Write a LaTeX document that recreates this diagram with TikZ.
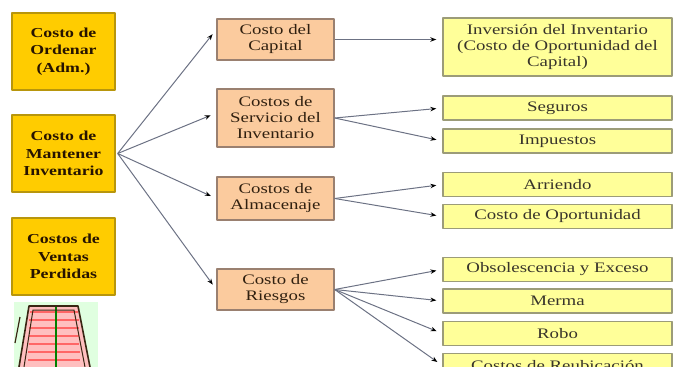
\documentclass[tikz,border=0pt]{standalone}
\usepackage{fontspec}
\setmainfont[FakeStretch=1.3]{Liberation Serif}
\usetikzlibrary{arrows.meta}
\definecolor{oro}{HTML}{FFCC00}
\definecolor{orobor}{HTML}{B8960C}
\definecolor{durazno}{HTML}{FBCB9E}
\definecolor{duraznobor}{HTML}{9A8070}
\definecolor{crema}{HTML}{FFFF99}
\definecolor{cremabor}{HTML}{9C9C78}
\definecolor{linea}{HTML}{6C7284}
\begin{document}
\begin{tikzpicture}[x=1pt, y=-1pt, line join=round,
  mainbox/.style={draw=orobor, fill=oro, line width=1.4pt, inner sep=0pt,
    minimum width=103pt, minimum height=77pt, align=center, text=black!85!orange,
    font=\fontsize{13.7}{17.5}\selectfont\bfseries},
  midbox/.style={draw=duraznobor, fill=durazno, line width=1.4pt, inner sep=0pt,
    minimum width=117pt, align=center, text=black!75!brown,
    font=\fontsize{14.5}{16}\selectfont},
  itembox/.style={draw=cremabor, fill=crema, line width=1.4pt, inner sep=0pt,
    minimum width=229pt, minimum height=24pt, align=center, text=black!80!olive,
    font=\fontsize{14.5}{16}\selectfont},
  flecha/.style={draw=linea, line width=1pt, -{Stealth[length=6pt,width=4.5pt,color=black]}, shorten >=6pt}]
  \useasboundingbox (0,0) rectangle (673,367);
  \clip (0,0) rectangle (673,367);
  % columna izquierda
  \node[mainbox] (ordenar) at (63.5,51.5) {Costo de\\Ordenar\\(Adm.)};
  \node[mainbox] (mantener) at (63.5,153.5) {Costo de\\Mantener\\Inventario};
  \node[mainbox] (ventas) at (63.5,256.5) {Costos de\\Ventas\\Perdidas};
  % columna central
  \node[midbox, minimum height=41pt] (capital) at (275.5,39.5) {Costo del\\Capital};
  \node[midbox, minimum height=58pt] (servicio) at (275.5,118) {Costos de\\Servicio del\\Inventario};
  \node[midbox, minimum height=43pt] (almacen) at (275.5,198.5) {Costos de\\Almacenaje};
  \node[midbox, minimum height=41pt] (riesgos) at (275.5,289.5) {Costo de\\Riesgos};
  % columna derecha
  \node[itembox, minimum height=58pt] (inversion) at (557.5,47) {Inversión del Inventario\\(Costo de Oportunidad del\\Capital)};
  \node[itembox] (seguros) at (557.5,108) {Seguros};
  \node[itembox] (impuestos) at (557.5,141) {Impuestos};
  \node[itembox] (arriendo) at (557.5,184.5) {Arriendo};
  \node[itembox] (oportunidad) at (557.5,216.5) {Costo de Oportunidad};
  \node[itembox] (obsol) at (557.5,269.5) {Obsolescencia y Exceso};
  \node[itembox] (merma) at (557.5,301) {Merma};
  \node[itembox] (robo) at (557.5,333.5) {Robo};
  \node[itembox] (reubic) at (557.5,365.5) {Costos de Reubicación};
  % flechas
  \draw[flecha] ([xshift=2pt]mantener.east) -- ([yshift=10pt]capital.west);
  \draw[flecha] ([xshift=2pt]mantener.east) -- ([yshift=5pt]servicio.west);
  \draw[flecha] ([xshift=2pt]mantener.east) -- (almacen.west);
  \draw[flecha] ([xshift=2pt]mantener.east) -- (riesgos.west);
  \draw[flecha] (capital.east) -- (capital.east -| inversion.west);
  \foreach \dest in {seguros,impuestos}
    \draw[flecha] (servicio.east) -- (\dest.west);
  \foreach \dest in {arriendo,oportunidad}
    \draw[flecha] (almacen.east) -- (\dest.west);
  \foreach \dest in {obsol,merma,robo,reubic}
    \draw[flecha] (riesgos.east) -- (\dest.west);
  % estante
  \fill[green!12] (14,302) rectangle (98,367);
  \fill[red!25] (29,306) -- (78,306) -- (90,367) -- (19,367) -- cycle;
  \foreach \y in {312,320,...,364}
    \draw[red!60!white, line width=2.5pt] (30-\y/30+10,\y) -- (78+\y/30-10,\y);
  \draw[green!50!black, line width=2pt] (56,306) -- (56,367);
  \draw[black!70!brown, line width=1.6pt] (19,367) -- (29,306) -- (78,306) -- (90,367);
  \draw[black!70!brown, line width=1pt] (24,367) -- (33,310) -- (74,310) -- (85,367);
  \draw[black!70!brown, line width=1.2pt] (20,317) -- (15,343);
\end{tikzpicture}
\end{document}
